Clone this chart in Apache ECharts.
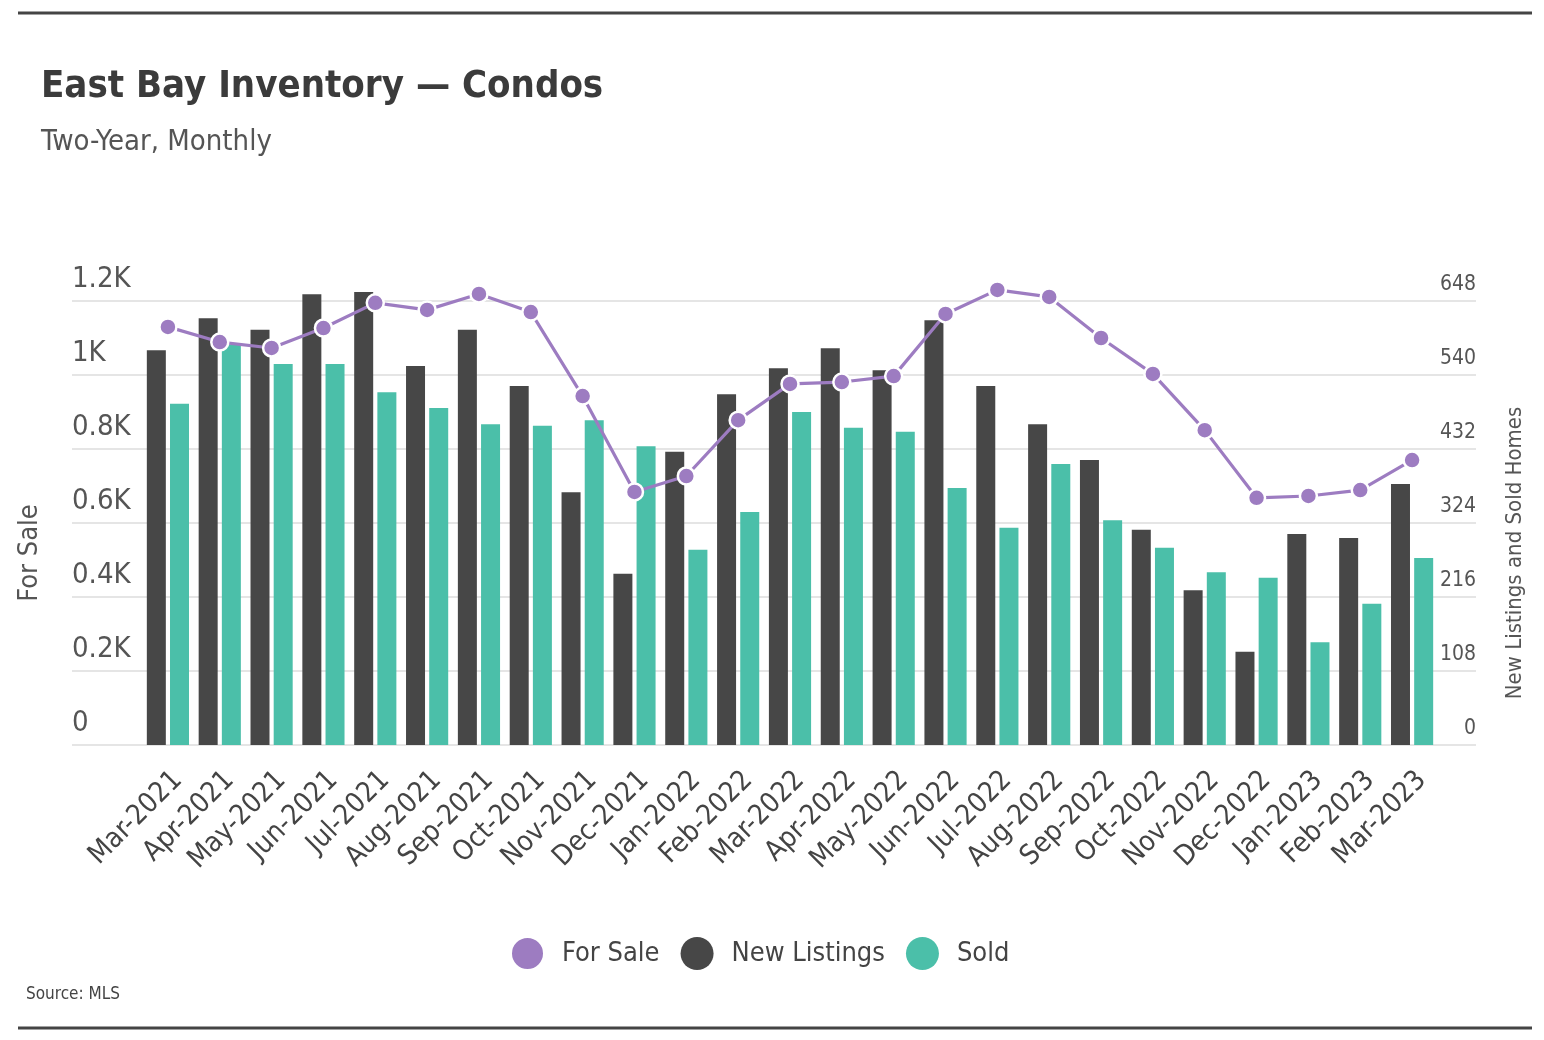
<!DOCTYPE html>
<html>
<head>
<meta charset="utf-8">
<script src="https://cdn.jsdelivr.net/npm/echarts@6/dist/echarts.min.js"></script>
<style>
html,body{margin:0;padding:0;background:#fff;}
#chart{width:1544px;height:1040px;}
</style>
</head>
<body>
<div id="chart"></div>
<script>
const categories = ['Mar-2021','Apr-2021','May-2021','Jun-2021','Jul-2021','Aug-2021','Sep-2021','Oct-2021','Nov-2021','Dec-2021','Jan-2022','Feb-2022','Mar-2022','Apr-2022','May-2022','Jun-2022','Jul-2022','Aug-2022','Sep-2022','Oct-2022','Nov-2022','Dec-2022','Jan-2023','Feb-2023','Mar-2023'];
const forSale = [1130,1089,1073,1127,1195,1176,1219,1170,943,684,727,878,976,981,997,1165,1230,1211,1100,1003,851,668,673,689,770];
const newListings = [576,623,606,658,661,553,606,524,369,250,428,512,550,579,547,620,524,468,416,314,226,136,308,302,381];
const sold = [498,584,556,556,515,492,468,466,474,436,285,340,486,463,457,375,317,410,328,288,252,244,150,206,273];
const leftTicks = ['0','0.2K','0.4K','0.6K','0.8K','1K','1.2K'];
const rightTicks = ['0','108','216','324','432','540','648'];

const FONT = "'Liberation Sans Narrow','DejaVu Sans Condensed','Noto Sans',sans-serif";
const PURPLE = '#9d7cc1', DARK = '#474747', TEAL = '#4bbfa9';

const chart = echarts.init(document.getElementById('chart'));
const option = {
  backgroundColor: '#fff',
  animation: false,
  textStyle: { fontFamily: FONT },
  title: {
    text: 'East Bay Inventory — Condos',
    subtext: 'Two-Year, Monthly',
    left: 36, top: 63,
    itemGap: 22,
    textStyle: { fontFamily: FONT, fontSize: 38, fontWeight: 'bold', color: '#3b3b3b' },
    subtextStyle: { fontFamily: FONT, fontSize: 29, color: '#555' }
  },
  legend: {
    data: ['For Sale','New Listings','Sold'],
    left: 505, top: 931,
    icon: 'circle', itemWidth: 33, itemHeight: 33, itemGap: 21,
    textStyle: { fontFamily: FONT, fontSize: 27, color: '#444', padding: [0, 0, 0, 13] }
  },
  grid: [
    { left: 72, right: 68, top: 301, height: 444 },
    { left: 142, right: 106, top: 301, height: 444 }
  ],
  xAxis: [
    { gridIndex: 0, type: 'category', data: categories, show: false },
    { gridIndex: 1, type: 'category', data: categories,
      axisLine: { show: false }, axisTick: { show: false },
      axisLabel: { rotate: 45, interval: 0, margin: 21, verticalAlign: 'top', fontFamily: FONT, fontSize: 28, color: '#444' } }
  ],
  yAxis: [
    { gridIndex: 0, type: 'value', min: 0, max: 1200, interval: 200, position: 'left',
      axisLine: { show: false }, axisTick: { show: false },
      axisLabel: { inside: true, margin: 0, verticalAlign: 'bottom', padding: [0, 0, 7, 0], fontFamily: FONT, fontSize: 29, color: '#555',
        formatter: v => leftTicks[Math.round(v / 200)] },
      splitLine: { lineStyle: { color: '#dcdcdc', width: 1.5 } } },
    { gridIndex: 0, type: 'value', min: 0, max: 648, interval: 108, position: 'right',
      axisLine: { show: false }, axisTick: { show: false },
      axisLabel: { inside: true, margin: 0, verticalAlign: 'bottom', padding: [0, 0, 6, 0], fontFamily: FONT, fontSize: 21, color: '#555',
        formatter: v => rightTicks[Math.round(v / 108)] },
      splitLine: { show: false } },
    { gridIndex: 1, type: 'value', min: 0, max: 1200, show: false, splitLine: { show: false } },
    { gridIndex: 1, type: 'value', min: 0, max: 648, show: false, splitLine: { show: false } }
  ],
  series: [
    { name: 'New Listings', type: 'bar', xAxisIndex: 1, yAxisIndex: 3, data: newListings, clip: false,
      barWidth: 19, barGap: '22%', itemStyle: { color: DARK } },
    { name: 'Sold', type: 'bar', xAxisIndex: 1, yAxisIndex: 3, data: sold, clip: false,
      barWidth: 19, barGap: '22%', itemStyle: { color: TEAL } },
    { name: 'For Sale', type: 'line', xAxisIndex: 1, yAxisIndex: 2, data: forSale, z: 5, clip: false,
      symbol: 'circle', symbolSize: 17,
      itemStyle: { color: PURPLE, borderColor: '#fff', borderWidth: 2.5 },
      lineStyle: { color: PURPLE, width: 3.2 } }
  ],
  graphic: [
    { type: 'line', shape: { x1: 18, y1: 13, x2: 1532, y2: 13 }, style: { stroke: '#444', lineWidth: 3 } },
    { type: 'line', shape: { x1: 18, y1: 1028, x2: 1532, y2: 1028 }, style: { stroke: '#444', lineWidth: 3 } },
    { type: 'text', left: 26, top: 986, style: { text: 'Source: MLS', font: "17px " + FONT, fill: '#444' } },
    { type: 'text', x: 30, y: 553, rotation: Math.PI / 2,
      style: { text: 'For Sale', font: "27px " + FONT, fill: '#555', textAlign: 'center', textVerticalAlign: 'middle' } },
    { type: 'text', x: 1515, y: 553, rotation: Math.PI / 2,
      style: { text: 'New Listings and Sold Homes', font: "22px " + FONT, fill: '#555', textAlign: 'center', textVerticalAlign: 'middle' } }
  ]
};
chart.setOption(option);
</script>
</body>
</html>
